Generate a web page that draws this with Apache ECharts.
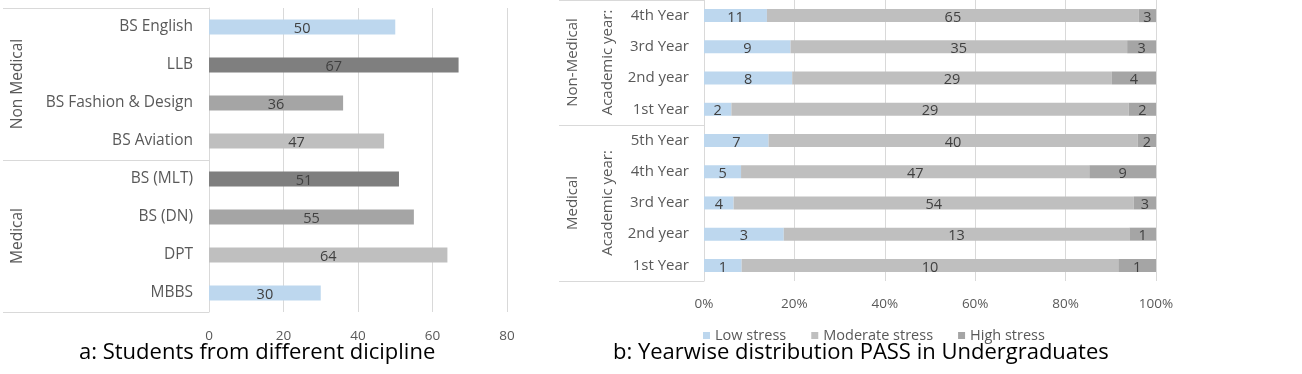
<!DOCTYPE html>
<html><head><meta charset="utf-8">
<script src="https://cdn.jsdelivr.net/npm/echarts@6/dist/echarts.min.js"></script>
<style>html,body{margin:0;padding:0;background:#fff}#c{width:1302px;height:374px}</style>
</head><body><div id="c"></div>
<script>
// ---- Chart a data ----
const disciplines = ['BS English','LLB','BS Fashion & Design','BS Aviation','BS (MLT)','BS (DN)','DPT','MBBS'];
const students = [50,67,36,47,51,55,64,30];
const disciplineGroups = ['Non Medical','Medical'];
const disciplineGroupSizes = [4,4];
const studentTicks = [0,20,40,60,80];

// ---- Chart b data ----
const years = ['4th Year','3rd Year','2nd year','1st Year','5th Year','4th Year','3rd Year','2nd year','1st Year'];
const yearGroups = ['Non-Medical','Medical'];
const yearGroupSizes = [4,5];
const yearSubGroups = ['Academic year:','Academic year:'];
const lowStress = [11,9,8,2,7,5,4,3,1];
const moderateStress = [65,35,29,29,40,47,54,13,10];
const highStress = [3,3,4,2,2,9,3,1,1];
const stressNames = ['Low stress','Moderate stress','High stress'];
const percentTicks = [0,20,40,60,80,100];

// ---- styles ----
const FONT = 'Open Sans';
const LABEL_COLOR = '#595959';
const LINE_COLOR = '#d9d9d9';
const disciplineColors = ['#BDD7EE','#7F7F7F','#A5A5A5','#BFBFBF','#7F7F7F','#A5A5A5','#BFBFBF','#BDD7EE'];
const stressColors = ['#BDD7EE','#BFBFBF','#A5A5A5'];

function groupLayout(sizes){
  const bounds=[-0.5], centers=[]; let acc=-0.5;
  sizes.forEach(s=>{centers.push(acc+s/2); acc+=s; bounds.push(acc);});
  return {bounds, centers, max: acc};
}
function nameAt(centers, names){
  return v => { const i = centers.findIndex(c=>Math.abs(c-v)<1e-6); return i>=0 ? names[i] : ''; };
}
const gA = groupLayout(disciplineGroupSizes);
const gB = groupLayout(yearGroupSizes);

const totals = years.map((_,i)=>lowStress[i]+moderateStress[i]+highStress[i]);
const raw = [lowStress, moderateStress, highStress];
const pct = raw.map(arr => arr.map((v,i)=> v/totals[i]*100));

const chart = echarts.init(document.getElementById('c'));
const capStyle = {fontFamily:FONT,fontSize:22,fontWeight:'normal',color:'#000'};
chart.setOption({
  animation:false,
  textStyle:{fontFamily:FONT},
  title:[
    {text:'a: Students from different dicipline', left:74, top:337, textStyle:capStyle},
    {text:'b: Yearwise distribution PASS in Undergraduates', left:608, top:337, textStyle:capStyle}
  ],
  legend:{
    data:stressNames, left:698, top:323, icon:'rect', itemWidth:7, itemHeight:7, itemGap:25,
    textStyle:{fontFamily:FONT,fontSize:14.5,color:LABEL_COLOR}
  },
  grid:[
    {left:209, top:8, width:298, height:304},
    {left:704, top:-4, width:452, height:285}
  ],
  xAxis:[
    {gridIndex:0, type:'value', min:studentTicks[0], max:studentTicks[studentTicks.length-1], interval:studentTicks[1]-studentTicks[0],
     axisLine:{show:false}, axisTick:{show:false},
     axisLabel:{color:LABEL_COLOR,fontSize:13.5,margin:17,fontFamily:FONT},
     splitLine:{lineStyle:{color:LINE_COLOR}}},
    {gridIndex:1, type:'value', min:percentTicks[0], max:percentTicks[percentTicks.length-1], interval:percentTicks[1]-percentTicks[0],
     axisLine:{show:false}, axisTick:{show:false},
     axisLabel:{color:LABEL_COLOR,fontSize:13.5,margin:16,fontFamily:FONT,formatter:'{value}%'},
     splitLine:{lineStyle:{color:LINE_COLOR}}}
  ],
  yAxis:[
    {gridIndex:0, type:'category', data:disciplines, inverse:true,
     axisLine:{lineStyle:{color:LINE_COLOR}}, axisTick:{show:false},
     axisLabel:{color:LABEL_COLOR,fontSize:15.5,margin:16,fontFamily:FONT}},
    {gridIndex:0, type:'value', min:-0.5, max:gA.max, inverse:true, position:'left', offset:0,
     axisLine:{show:false}, splitLine:{show:false},
     axisTick:{show:true, customValues:gA.bounds, length:206, lineStyle:{color:LINE_COLOR}},
     axisLabel:{customValues:gA.centers, formatter:nameAt(gA.centers, disciplineGroups), rotate:90, margin:183, color:LABEL_COLOR, fontSize:15.5, fontFamily:FONT}},
    {gridIndex:1, type:'category', data:years, inverse:true,
     axisLine:{lineStyle:{color:LINE_COLOR}}, axisTick:{show:false},
     axisLabel:{color:LABEL_COLOR,fontSize:15,margin:15,fontFamily:FONT}},
    {gridIndex:1, type:'value', min:-0.5, max:gB.max, inverse:true, position:'left', offset:0,
     axisLine:{show:false}, splitLine:{show:false},
     axisTick:{show:true, customValues:gB.bounds, length:145, lineStyle:{color:LINE_COLOR}},
     axisLabel:{customValues:gB.centers, formatter:nameAt(gB.centers, yearGroups), rotate:90, margin:124, color:LABEL_COLOR, fontSize:15, fontFamily:FONT}},
    {gridIndex:1, type:'value', min:-0.5, max:gB.max, inverse:true, position:'left', offset:0,
     axisLine:{show:false}, splitLine:{show:false}, axisTick:{show:false},
     axisLabel:{customValues:gB.centers, formatter:nameAt(gB.centers, yearSubGroups), rotate:90, margin:89, color:LABEL_COLOR, fontSize:15, fontFamily:FONT}}
  ],
  series:[
    {type:'bar', xAxisIndex:0, yAxisIndex:0, data:students, barWidth:15,
     itemStyle:{color:p=>disciplineColors[p.dataIndex]},
     label:{show:true, position:'inside', color:'#404040', fontSize:14.5, fontFamily:FONT, offset:[0,2]}},
    ...stressNames.map((name,k)=>({
      type:'bar', name, stack:'pass', xAxisIndex:1, yAxisIndex:2, data:pct[k], barWidth:13,
      itemStyle:{color:stressColors[k]},
      label:{show:true, position:'inside', color:'#404040', fontSize:14.5, fontFamily:FONT, offset:[0,2],
             formatter:p=>raw[k][p.dataIndex]}
    }))
  ]
});
</script></body></html>
